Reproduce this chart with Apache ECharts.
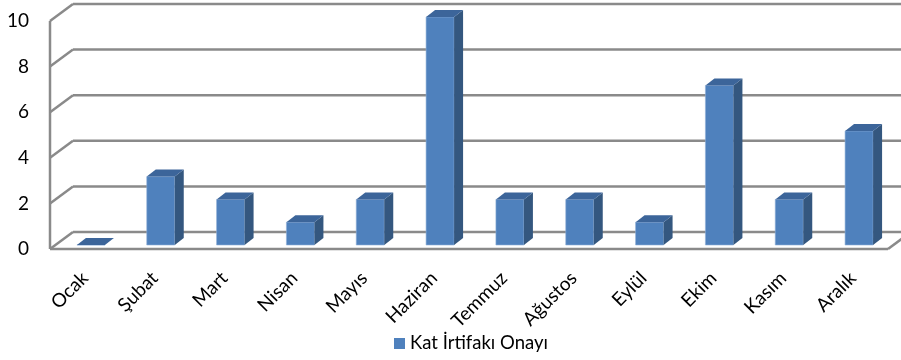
<!DOCTYPE html>
<html>
<head>
<meta charset="utf-8">
<script src="https://cdn.jsdelivr.net/npm/echarts@6/dist/echarts.min.js"></script>
<style>
  html, body { margin: 0; padding: 0; background: #fff; }
  #chart { width: 901px; height: 360px; }
</style>
</head>
<body>
<div id="chart"></div>
<script>
// veriler
const months = ['Ocak', 'Şubat', 'Mart', 'Nisan', 'Mayıs', 'Haziran', 'Temmuz', 'Ağustos', 'Eylül', 'Ekim', 'Kasım', 'Aralık']
const onay = [0, 3, 2, 1, 2, 10, 2, 2, 1, 7, 2, 5]
const yTicks = [0, 2, 4, 6, 8, 10]
const seriesName = 'Kat İrtifakı Onayı'

// 3B görünüm için derinlik ayarları
const wallDx = 23
const wallDy = -17
const barDx = 9
const barDy = -7
const barShiftX = 6
const barShiftY = -4
const barWidth = 28
const lineStyle = { stroke: '#8a8a8a', lineWidth: 2.5 }

const chart = echarts.init(document.getElementById('chart'))

// arka duvar ve zemin çizgileri
function renderWall(params, api) {
  const cs = params.coordSys
  const val = api.value(1)
  const y = api.coord([0, val])[1]
  const x0 = cs.x
  const x1 = cs.x + cs.width
  const children = [
    { type: 'line', shape: { x1: x0, y1: y, x2: x0 + wallDx, y2: y + wallDy }, style: lineStyle },
    { type: 'line', shape: { x1: x0 + wallDx, y1: y + wallDy, x2: x1 + wallDx, y2: y + wallDy }, style: lineStyle }
  ]
  if (val === yTicks[0]) {
    const yTop = api.coord([0, yTicks[yTicks.length - 1]])[1]
    children.push(
      { type: 'line', shape: { x1: x0, y1: y, x2: x1, y2: y }, style: lineStyle },
      { type: 'line', shape: { x1: x1, y1: y, x2: x1 + wallDx, y2: y + wallDy }, style: lineStyle },
      { type: 'line', shape: { x1: x0, y1: y, x2: x0, y2: yTop }, style: lineStyle }
    )
  }
  return { type: 'group', children }
}

// 3B sütunlar
function renderBar(params, api) {
  const idx = api.value(0)
  const base = api.coord([idx, 0])
  const top = api.coord([idx, api.value(1)])
  const x = base[0] - barWidth / 2 + barShiftX
  const yb = base[1] + barShiftY
  const yt = top[1] + barShiftY
  const w = barWidth
  return {
    type: 'group',
    children: [
      {
        type: 'polygon',
        shape: { points: [[x, yb], [x + w, yb], [x + w, yt], [x, yt]] },
        style: { fill: '#4F81BD', stroke: '#8fb0d8', lineWidth: 0.6 }
      },
      {
        type: 'polygon',
        shape: { points: [[x + w, yb], [x + w + barDx, yb + barDy], [x + w + barDx, yt + barDy], [x + w, yt]] },
        style: { fill: '#34577F' }
      },
      {
        type: 'polygon',
        shape: { points: [[x, yt], [x + barDx, yt + barDy], [x + w + barDx, yt + barDy], [x + w, yt]] },
        style: { fill: '#3C659A' }
      }
    ]
  }
}

chart.setOption({
  animation: false,
  backgroundColor: '#fff',
  grid: { left: 50, right: 13, top: 21, bottom: 111 },
  legend: {
    left: 389,
    top: 329,
    icon: 'rect',
    itemWidth: 11,
    itemHeight: 11,
    data: [seriesName],
    textStyle: { color: '#000', fontSize: 18.5, fontFamily: 'Lato' }
  },
  xAxis: {
    type: 'category',
    data: months,
    axisLine: { show: false },
    axisTick: { show: false },
    axisLabel: {
      interval: 0,
      rotate: 45,
      margin: 26,
      fontSize: 19,
      color: '#000',
      fontFamily: 'Lato'
    }
  },
  yAxis: {
    type: 'value',
    min: 0,
    max: 10,
    interval: 2,
    splitLine: { show: false },
    axisLine: { show: false },
    axisLabel: { fontSize: 19, color: '#000', margin: 21, fontFamily: 'Lato' }
  },
  series: [
    {
      type: 'custom',
      silent: true,
      z: 1,
      data: yTicks.map(v => [0, v]),
      renderItem: renderWall
    },
    {
      type: 'custom',
      name: seriesName,
      z: 2,
      itemStyle: { color: '#4F81BD' },
      data: onay.map((v, i) => [i, v]),
      renderItem: renderBar
    }
  ]
})
</script>
</body>
</html>
